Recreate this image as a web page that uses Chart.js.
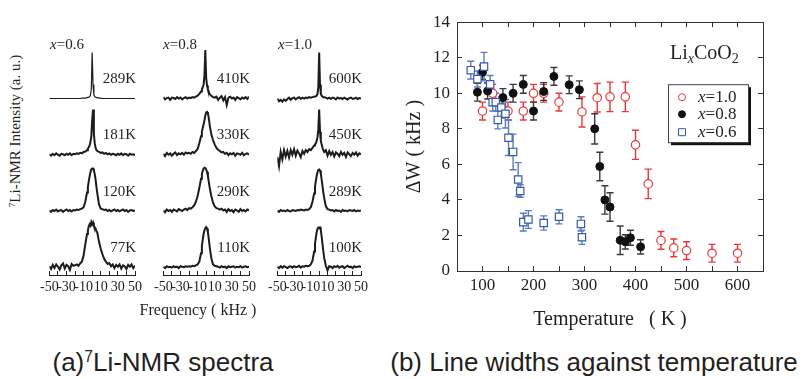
<!DOCTYPE html>
<html>
<head>
<meta charset="utf-8">
<script src="https://cdn.jsdelivr.net/npm/chart.js@4.4.1/dist/chart.umd.min.js"></script>
<style>
  body { margin: 0; width: 807px; height: 379px; background: #fff; position: relative; overflow: hidden;
         font-family: "Liberation Serif", "Times New Roman", serif; color: #231f20; }
  canvas { position: absolute; }
  .txt { position: absolute; line-height: 1; white-space: nowrap; }
  .c { transform: translate(-50%, -50%); }
  .cap { font-family: "Liberation Sans", Arial, sans-serif; font-size: 26px; }
  sup { font-size: 0.6em; vertical-align: 0.55em; line-height: 0; }
  sub { font-size: 0.7em; vertical-align: -0.3em; line-height: 0; }
</style>
</head>
<body>
<canvas id="specA" width="118" height="260" style="left:32px;top:40px"></canvas>
<canvas id="specB" width="118" height="260" style="left:146px;top:40px"></canvas>
<canvas id="specC" width="116" height="260" style="left:260px;top:40px"></canvas>
<canvas id="widths" width="407" height="340" style="left:400px;top:0px"></canvas>

<div class="txt" style="left:50px;top:37px;font-size:15px"><i>x</i>=0.6</div>
<div class="txt" style="left:163px;top:37px;font-size:15px"><i>x</i>=0.8</div>
<div class="txt" style="left:278px;top:37px;font-size:15px"><i>x</i>=1.0</div>
<div class="txt" style="left:15px;top:131px;font-size:15px;transform:translate(-50%,-50%) rotate(-90deg)"><sup>7</sup>Li-NMR Intensity (a. u.)</div>
<div class="txt c" style="left:198px;top:310px;font-size:16px">Frequency ( kHz )</div>
<div class="txt" style="left:670px;top:42px;font-size:20px">Li<sub><i>x</i></sub>CoO<sub>2</sub></div>
<div class="txt c cap" style="left:163px;top:362px">(a)<sup>7</sup>Li-NMR spectra</div>
<div class="txt c cap" style="left:594px;top:362px">(b) Line widths against temperature</div>

<script>
// ---- (a) spectra: frequency grid (kHz) and normalised intensities ----
const FREQ = [-50,-48,-46,-44,-42,-40,-38,-36,-34,-32,-30,-28,-26,-24,-22,-20,-18,-16,-14,-12,-10,-8,-6,
              -5,-4,-3,-2,-1,0,1,2,3,4,5,
              6,8,10,12,14,16,18,20,22,24,26,28,30,32,34,36,38,40,42,44,46,48,50];

// x = 0.6
const S06_289 = [0,0,0,0,0,0,0,0,0,0, 0,0,0,0,0,0,0,0,0,0.01, 0.01,0.01,0.02,
  0.02,0.03,0.04,0.07,0.2,1.0,0.3,0.08,0.04,0.03,0.02,
  0.02,0.01,0.01,0,0,0,0,0,0,0, 0,0,0,0,0,0,0,0,0,0, 0,0,0];
const S06_181 = [0.01,-0.02,0.02,-0.01,0.03,0,-0.02,0.02,0.01,-0.01, 0.02,0,0.03,-0.01,0.02,0.01,0.03,0.02,0.04,0.03, 0.06,0.07,0.1,
  0.13,0.16,0.2,0.28,0.4,0.75,0.98,0.45,0.25,0.15,0.1,
  0.08,0.06,0.04,0.05,0.02,0.04,0.01,0.03,0,0.02, 0.01,-0.01,0.02,0,0.03,-0.01,0.02,0.01,-0.02,0.02, 0,0.01,-0.01];
const S06_120 = [0.01,-0.02,0.02,0,0.03,-0.01,0.01,0.02,-0.02,0.01, 0.03,0,0.02,-0.01,0.02,0.01,0.03,0.02,0.04,0.05, 0.08,0.2,0.4,
  0.52,0.64,0.75,0.84,0.9,0.92,0.92,0.88,0.8,0.68,0.52,
  0.38,0.14,0.05,0.04,0.02,0.03,0,0.02,-0.01,0.01, 0.03,0,0.02,-0.01,0.01,0.03,0,0.02,-0.02,0.01, 0.02,0,0.01];
const S06_77 = [0.02,-0.04,0.05,-0.02,0.06,0.01,-0.05,0.04,0.08,-0.03, 0.05,0.02,-0.06,0.07,0.03,0.04,0.06,0.03,0.08,0.12, 0.25,0.5,0.72,
  0.8,0.88,0.93,0.9,0.98,0.93,0.97,0.9,0.86,0.84,0.78,
  0.75,0.55,0.4,0.28,0.18,0.12,0.07,0.09,0.02,0.06, -0.02,0.05,0.01,0.06,-0.03,0.04,0.02,-0.04,0.05,0.01, 0.06,-0.02,0.03];

// x = 0.8
const S08_410 = [0.03,-0.02,0.01,0.02,-0.03,0.02,0.01,-0.01,0.03,0, 0.02,-0.02,0.01,0.03,0,0.02,0.01,0.03,0.02,0.04, 0.06,0.1,0.15,
  0.2,0.24,0.3,0.5,1.05,0.45,0.28,0.2,0.15,0.1,0.08,
  0.06,0.03,0.02,0.04,-0.03,0.02,0.05,-0.04,0.03,-0.14, 0.02,0.04,0,0.02,-0.03,0.03,0.01,-0.02,0.02,0, 0.03,-0.01,0.04];
const S08_330 = [0.02,-0.03,0.04,0,0.03,-0.02,0.02,0.05,-0.01,0.03, 0.01,0.04,0,0.05,0.03,0.04,0.02,0.06,0.04,0.08, 0.12,0.25,0.4,
  0.5,0.58,0.66,0.75,0.85,0.92,0.93,0.9,0.8,0.66,0.55,
  0.45,0.32,0.22,0.15,0.11,0.08,0.05,0.06,0.02,0.04, -0.01,0.03,0.01,0.04,-0.02,0.03,0.02,0,0.04,-0.01, 0.02,0.03,0];
const S08_290 = [0.01,-0.03,0.03,0,0.02,-0.02,0.03,0.01,-0.01,0.04, 0.02,0,0.03,0.05,0.02,0.06,0.05,0.08,0.12,0.2, 0.32,0.5,0.7,
  0.8,0.87,0.92,0.94,0.93,0.9,0.85,0.76,0.64,0.52,0.42,
  0.33,0.18,0.1,0.06,0.05,0.03,0.05,0.01,0.03,-0.02, 0.04,0,0.02,-0.03,0.03,0.01,-0.02,0.04,0,0.02, -0.01,0.03,0.01];
const S08_110 = [0.01,-0.02,0.02,0,0.01,-0.01,0.02,0,0.01,-0.02, 0.02,0.01,0,0.02,0.01,0.02,0.01,0.03,0.02,0.04, 0.06,0.12,0.3,
  0.45,0.6,0.72,0.8,0.85,0.87,0.84,0.76,0.62,0.46,0.32,
  0.2,0.06,0.03,0.02,0.01,-0.01,0.02,0,0.01,-0.02, 0.02,0,0.01,0.02,-0.01,0.01,0,0.02,-0.01,0.01, 0.02,0,0.01];

// x = 1.0
const S10_600 = [0,-0.06,-0.03,-0.07,-0.02,-0.05,-0.01,0.02,-0.03,0.01, 0.02,-0.02,0.01,0.03,-0.01,0.02,0,0.02,0.01,0.03, 0.02,0.03,0.04,
  0.04,0.05,0.06,0.1,0.25,1.0,0.3,0.1,0.06,0.04,0.03,
  0.03,0.02,0,0.02,-0.01,0.02,0.01,-0.02,0.02,0, 0.01,-0.01,0.02,0,-0.02,0.01,0.02,-0.01,0,0.02, -0.01,0.01,0];
const S10_450 = [-0.05,-0.25,0.06,-0.1,0.1,-0.04,0.08,-0.06,0.1,0, 0.12,-0.02,0.09,0.03,-0.05,0.08,0.02,0.1,0.06,0.12, 0.1,0.15,0.2,
  0.22,0.25,0.3,0.38,0.55,0.98,0.5,0.3,0.22,0.15,0.1,
  0.06,0.1,-0.02,0.08,0,0.06,-0.04,0.05,0.02,-0.03, 0.06,0,0.04,-0.05,0.05,0.01,-0.03,0.04,0,0.05, -0.02,0.03,0.01];
const S10_289 = [0.01,-0.02,0.02,0,0.01,-0.01,0.02,0,-0.01,0.02, 0.01,0,0.02,0.01,0.03,0.02,0.01,0.03,0.02,0.04, 0.08,0.2,0.38,
  0.52,0.65,0.76,0.84,0.89,0.9,0.88,0.8,0.68,0.54,0.4,
  0.28,0.1,0.04,0.03,0.01,0.02,-0.01,0.02,0,0.01, -0.02,0.02,0,0.01,-0.01,0.02,0.01,0,0.02,-0.01, 0.01,0,0.01];
const S10_100 = [0.01,-0.02,0.02,-0.01,0.02,0,-0.02,0.01,0.02,-0.01, 0.02,0,0.01,0.03,-0.01,0.02,0.01,0.03,0.02,0.03, 0.06,0.14,0.34,
  0.5,0.64,0.76,0.83,0.86,0.85,0.86,0.8,0.66,0.5,0.34,
  0.2,0.03,-0.07,0.02,0.01,-0.02,0.02,0,0.03,-0.01, 0.01,0.02,-0.02,0.01,0.03,0,0.01,-0.02,0.02,0, 0.01,0.02,0];

const TEMPS_06 = ['289K', '181K', '120K', '77K'];
const TEMPS_08 = ['410K', '330K', '290K', '110K'];
const TEMPS_10 = ['600K', '450K', '289K', '100K'];

// ---- (b) line width vs temperature ----
const T_10 = [100, 120, 150, 180, 200, 220, 250, 295, 325, 350, 380, 400, 425, 450, 475, 500, 550, 600];
const W_10 = [9.0, 10.0, 9.0, 9.0, 10.0, 10.0, 9.5, 8.95, 9.75, 9.8, 9.8, 7.1, 4.9, 1.72, 1.3, 1.15, 1.0, 1.0];
const E_10 = [0.5, 0.5, 0.5, 0.5, 0.5, 0.5, 0.5, 0.85, 0.8, 0.83, 0.83, 0.82, 0.83, 0.5, 0.5, 0.5, 0.5, 0.5];

const T_08 = [90, 100, 110, 140, 160, 180, 200, 220, 240, 270, 290, 320, 330, 340, 350, 370, 380, 390, 410];
const W_08 = [10.06, 11.18, 10.13, 9.76, 10.0, 10.5, 9.0, 10.1, 10.95, 10.48, 10.2, 8.0, 5.88, 4.0, 3.6, 1.73, 1.64, 1.87, 1.36];
const E_08 = [0.5, 0.4, 0.45, 0.5, 0.5, 0.5, 0.5, 0.5, 0.5, 0.5, 0.5, 0.85, 0.8, 0.8, 0.8, 0.8, 0.4, 0.42, 0.4];

const T_06 = [77, 90, 103, 115, 120, 126, 130, 137, 145, 151, 160, 170, 174, 180, 190, 220, 250, 293, 295];
const W_06 = [11.3, 10.8, 11.5, 10.5, 9.5, 9.5, 8.5, 9.2, 8.85, 7.5, 6.7, 5.15, 4.5, 2.75, 2.9, 2.7, 3.05, 2.65, 1.9];
const E_06 = [0.5, 0.45, 0.8, 0.5, 0.5, 0.5, 0.5, 0.6, 0.8, 1.0, 1.0, 0.95, 0.35, 0.5, 0.5, 0.4, 0.4, 0.4, 0.4];

const INK = '#231f20';
const SERIF = '"Liberation Serif", "Times New Roman", serif';
// vertical offset of each stacked spectrum (top row first)
const ROW_BASE = [3.66, 2.44, 1.22, 0];

// temperature tag above each spectrum, right aligned
const tempLabels = {
    id: 'tempLabels',
    afterDatasetsDraw(chart, args, opts) {
        const ctx = chart.ctx, ys = chart.scales.y, area = chart.chartArea;
        ctx.save();
        ctx.font = '15px ' + SERIF;
        ctx.fillStyle = INK;
        ctx.textAlign = 'right';
        ctx.textBaseline = 'middle';
        opts.labels.forEach((t, i) => {
            ctx.fillText(t, area.right + 1, ys.getPixelForValue(ROW_BASE[i] + 0.42));
        });
        ctx.restore();
    }
};

function spectrumChart(id, spectra, temps) {
    new Chart(document.getElementById(id), {
        type: 'line',
        data: {
            datasets: spectra.map((s, r) => ({
                data: FREQ.map((f, i) => ({ x: f, y: s[i] + ROW_BASE[r] })),
                borderColor: '#1c1c1c',
                // the clean 289K trace is thin, the noisy ones read as a thick band
                borderWidth: s === S06_289 ? 1.2 : 2,
                pointRadius: 0,
                tension: 0,
                fill: false
            }))
        },
        options: {
            responsive: false,
            animation: false,
            events: [],
            layout: { padding: { left: 12, right: 12, top: 0, bottom: 0 } },
            plugins: { legend: { display: false }, tooltip: { enabled: false }, tempLabels: { labels: temps } },
            scales: {
                x: {
                    type: 'linear', min: -50, max: 50,
                    afterFit: s => { s.height = 25; },
                    border: { color: INK, width: 1 },
                    grid: { drawOnChartArea: false, tickLength: -4, color: INK },
                    ticks: {
                        stepSize: 10, autoSkip: false, maxRotation: 0, padding: 8, color: INK,
                        font: { family: SERIF, size: 14 },
                        callback: v => (v % 20 !== 0 ? String(v) : '')
                    }
                },
                y: { display: false, min: -0.17, max: 4.93 }
            }
        },
        plugins: [tempLabels]
    });
}

spectrumChart('specA', [S06_289, S06_181, S06_120, S06_77], TEMPS_06);
spectrumChart('specB', [S08_410, S08_330, S08_290, S08_110], TEMPS_08);
spectrumChart('specC', [S10_600, S10_450, S10_289, S10_100], TEMPS_10);

// vertical error bars with caps, drawn under the markers
const errorBars = {
    id: 'errorBars',
    beforeDatasetsDraw(chart) {
        const ctx = chart.ctx, xs = chart.scales.x, ys = chart.scales.y;
        chart.data.datasets.forEach(ds => {
            ctx.save();
            ctx.strokeStyle = ds.errorColor;
            ctx.lineWidth = 1.4;
            ds.data.forEach((p, i) => {
                const px = xs.getPixelForValue(p.x);
                const top = ys.getPixelForValue(p.y + ds.errors[i]);
                const bot = ys.getPixelForValue(p.y - ds.errors[i]);
                ctx.beginPath();
                ctx.moveTo(px, top); ctx.lineTo(px, bot);
                ctx.moveTo(px - 3.5, top); ctx.lineTo(px + 3.5, top);
                ctx.moveTo(px - 3.5, bot); ctx.lineTo(px + 3.5, bot);
                ctx.stroke();
            });
            ctx.restore();
        });
    }
};

// legend box with drop shadow inside the plot
const boxLegend = {
    id: 'boxLegend',
    afterDatasetsDraw(chart) {
        const ctx = chart.ctx, a = chart.chartArea;
        const x0 = a.right - 95, y0 = a.top + 62, w = 80, h = 58;
        ctx.save();
        ctx.fillStyle = '#111';
        ctx.fillRect(x0 + 3, y0 + 3, w, h);
        ctx.fillStyle = '#fff';
        ctx.fillRect(x0, y0, w, h);
        ctx.strokeStyle = '#444';
        ctx.lineWidth = 1;
        ctx.strokeRect(x0 + 0.5, y0 + 0.5, w, h);
        const rows = [13, 30, 48];
        chart.data.datasets.forEach((ds, i) => {
            const my = y0 + rows[i], mx = x0 + 14;
            ctx.lineWidth = 1;
            ctx.strokeStyle = ds.borderColor;
            ctx.fillStyle = ds.backgroundColor;
            ctx.beginPath();
            if (ds.pointStyle === 'rect') {
                ctx.rect(mx - 3.5, my - 3.5, 7, 7);
            } else {
                ctx.arc(mx, my, 3.5, 0, Math.PI * 2);
            }
            ctx.fill();
            ctx.stroke();
            ctx.fillStyle = INK;
            ctx.textBaseline = 'middle';
            ctx.font = 'italic 17px ' + SERIF;
            ctx.fillText('x', x0 + 30, my);
            const wx = ctx.measureText('x').width;
            ctx.font = '17px ' + SERIF;
            ctx.fillText(ds.label.slice(1), x0 + 30 + wx, my);
        });
        ctx.restore();
    }
};

const toPoints = (ts, ws) => ts.map((t, i) => ({ x: t, y: ws[i] }));

new Chart(document.getElementById('widths'), {
    type: 'scatter',
    data: {
        datasets: [
            { label: 'x=1.0', data: toPoints(T_10, W_10), errors: E_10, errorColor: '#e8383d',
              pointStyle: 'circle', pointRadius: 4.2, borderWidth: 1.2, borderColor: '#e8383d', backgroundColor: '#fff', order: 2 },
            { label: 'x=0.8', data: toPoints(T_08, W_08), errors: E_08, errorColor: '#3a3a3a',
              pointStyle: 'circle', pointRadius: 4, borderWidth: 1, borderColor: '#111', backgroundColor: '#111', order: 1 },
            { label: 'x=0.6', data: toPoints(T_06, W_06), errors: E_06, errorColor: '#5b7cc2',
              pointStyle: 'rect', pointRadius: 5.2, borderWidth: 1.2, borderColor: '#3558a8', backgroundColor: '#fff', order: 0 }
        ]
    },
    options: {
        responsive: false,
        animation: false,
        events: [],
        layout: { padding: 0 },
        plugins: { legend: { display: false }, tooltip: { enabled: false } },
        scales: {
            x: {
                type: 'linear', position: 'bottom', min: 50, max: 650,
                afterFit: s => { s.height = 69; },
                border: { color: '#333', width: 1 },
                grid: { drawOnChartArea: false, tickLength: -5, color: '#333' },
                ticks: {
                    stepSize: 50, autoSkip: false, maxRotation: 0, padding: 9, color: INK,
                    font: { family: SERIF, size: 17 },
                    callback: v => (v % 100 === 0 ? String(v) : '')
                },
                title: { display: true, text: 'Temperature   ( K )', color: INK,
                         font: { family: SERIF, size: 20 }, padding: { top: 0, bottom: 8 } }
            },
            x2: {
                type: 'linear', position: 'top', min: 50, max: 650,
                afterFit: s => { s.height = 17; },
                border: { color: '#333', width: 1 },
                grid: { drawOnChartArea: false, tickLength: -5, color: '#333' },
                ticks: { stepSize: 50, display: false }
            },
            y: {
                type: 'linear', position: 'left', min: 0, max: 14,
                afterFit: s => { s.width = 57; },
                border: { color: '#333', width: 1 },
                grid: { drawOnChartArea: false, tickLength: -5, color: '#333' },
                ticks: { stepSize: 2, padding: 12, color: INK, font: { family: SERIF, size: 17 } },
                title: { display: true, text: '\u0394W ( kHz )', color: INK,
                         font: { family: SERIF, size: 20 }, padding: { top: 3, bottom: 0 } }
            },
            y2: {
                type: 'linear', position: 'right', min: 0, max: 14,
                afterFit: s => { s.width = 44; },
                border: { color: '#333', width: 1 },
                grid: { drawOnChartArea: false, tickLength: -5, color: '#333' },
                ticks: { stepSize: 2, display: false }
            }
        }
    },
    plugins: [errorBars, boxLegend]
});
</script>
</body>
</html>
